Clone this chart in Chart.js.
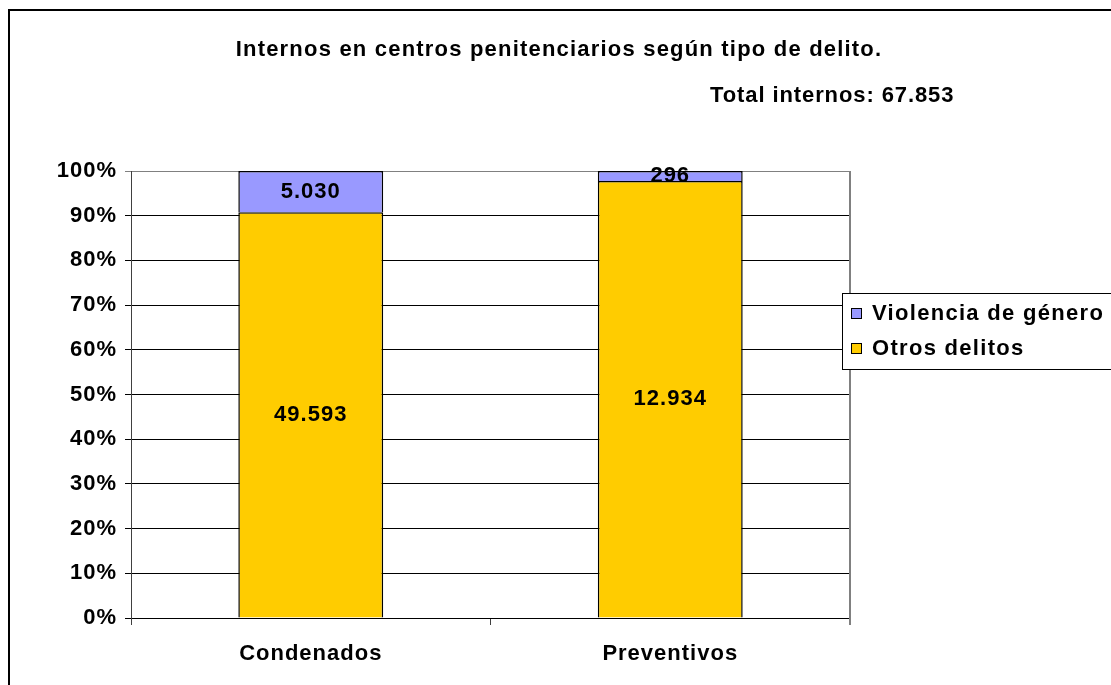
<!DOCTYPE html>
<html>
<head>
<meta charset="utf-8">
<script src="https://cdn.jsdelivr.net/npm/chart.js@4"></script>
<style>
  body { margin: 0; background: #fff; }
  canvas { display: block; }
</style>
</head>
<body>
<canvas id="grafico" width="1111" height="685"></canvas>
<script>
// datos
const categorias = ['Condenados', 'Preventivos'];
const otrosDelitos = [49593, 12934];
const violenciaGenero = [5030, 296];
const nombresSeries = ['Otros delitos', 'Violencia de género'];
const titulo = 'Internos en centros penitenciarios según tipo de delito.';
const subtitulo = 'Total internos: 67.853';

const colorOtros = '#FFCC00';
const colorViolencia = '#9999FF';
const fuente = 'Arial, "Liberation Sans", sans-serif';

// porcentajes para el 100% apilado
const totales = otrosDelitos.map((v, i) => v + violenciaGenero[i]);
const pctOtros = otrosDelitos.map((v, i) => v / totales[i] * 100);
const pctViolencia = violenciaGenero.map((v, i) => v / totales[i] * 100);
const brutos = [otrosDelitos, violenciaGenero];

const fmt = (n) => n.toLocaleString('de-DE');

// marco, titulos, leyenda, etiquetas
const dibujoExtra = {
    id: 'dibujoExtra',
    beforeDraw(chart) {
        const ctx = chart.ctx;
        ctx.letterSpacing = '1px';
        ctx.save();
        ctx.fillStyle = '#fff';
        ctx.fillRect(0, 0, chart.width, chart.height);
        ctx.strokeStyle = '#000';
        ctx.lineWidth = 2;
        ctx.strokeRect(9, 10, 1200, 800);
        ctx.fillStyle = '#000';
        ctx.font = 'bold 22px ' + fuente;
        ctx.letterSpacing = '1.2px';
        ctx.textAlign = 'center';
        ctx.textBaseline = 'middle';
        ctx.fillText(titulo, 559, 50);
        ctx.textAlign = 'left';
        ctx.letterSpacing = '0.9px';
        ctx.fillText(subtitulo, 710, 96);
        ctx.restore();
    },
    afterDatasetsDraw(chart) {
        const ctx = chart.ctx;
        const area = chart.chartArea;
        ctx.save();
        // borde derecho del area
        ctx.strokeStyle = '#808080';
        ctx.lineWidth = 2;
        ctx.beginPath();
        ctx.moveTo(area.right, area.top);
        ctx.lineTo(area.right, area.bottom + 7);
        ctx.stroke();
        // etiquetas de valores
        ctx.fillStyle = '#000';
        ctx.font = 'bold 22px ' + fuente;
        ctx.textAlign = 'center';
        ctx.textBaseline = 'middle';
        chart.data.datasets.forEach((ds, d) => {
            chart.getDatasetMeta(d).data.forEach((bar, i) => {
                ctx.fillText(fmt(brutos[d][i]), bar.x, (bar.y + bar.base) / 2);
            });
        });
        // leyenda
        ctx.fillStyle = '#fff';
        ctx.fillRect(843, 293, 300, 76);
        ctx.strokeStyle = '#000';
        ctx.lineWidth = 1;
        ctx.strokeRect(842.5, 293.5, 300, 76);
        const items = [[nombresSeries[1], colorViolencia, 313], [nombresSeries[0], colorOtros, 348]];
        ctx.font = 'bold 22px ' + fuente;
        ctx.letterSpacing = '1.3px';
        ctx.textAlign = 'left';
        items.forEach(([txt, col, y]) => {
            ctx.fillStyle = col;
            ctx.fillRect(851, y - 5, 11, 11);
            ctx.strokeRect(851.5, y - 4.5, 10, 10);
            ctx.fillStyle = '#000';
            ctx.fillText(txt, 872, y + 1);
        });
        ctx.restore();
    }
};

new Chart(document.getElementById('grafico'), {
    type: 'bar',
    data: {
        labels: categorias,
        datasets: [{
            label: nombresSeries[0],
            data: pctOtros,
            backgroundColor: colorOtros,
            borderColor: '#000',
            borderWidth: 1.5
        }, {
            label: nombresSeries[1],
            data: pctViolencia,
            backgroundColor: colorViolencia,
            borderColor: '#000',
            borderWidth: 1.5
        }]
    },
    options: {
        responsive: false,
        animation: false,
        layout: { padding: { left: 0, top: 171, right: 261, bottom: 0 } },
        datasets: { bar: { categoryPercentage: 1, barPercentage: 0.403 } },
        plugins: {
            legend: { display: false },
            title: { display: false },
            tooltip: { enabled: false }
        },
        scales: {
            x: {
                stacked: true,
                offset: true,
                grid: { offset: true, drawOnChartArea: false, tickLength: 7, color: '#404040' },
                border: { color: '#000', width: 1 },
                ticks: { color: '#000', font: { family: fuente, size: 22, weight: 'bold' }, padding: 16 },
                afterFit(scale) { scale.height = 67; }
            },
            y: {
                stacked: true,
                min: 0,
                max: 100,
                grid: {
                    color: (c) => c.tick && c.tick.value === 100 ? '#808080' : '#000',
                    tickLength: 6
                },
                border: { color: '#404040', width: 1 },
                ticks: {
                    stepSize: 10,
                    color: '#000',
                    padding: 8,
                    font: { family: fuente, size: 22, weight: 'bold' },
                    callback: (v) => v + '%'
                },
                afterFit(scale) { scale.width = 131; }
            }
        }
    },
    plugins: [dibujoExtra]
});
</script>
</body>
</html>
